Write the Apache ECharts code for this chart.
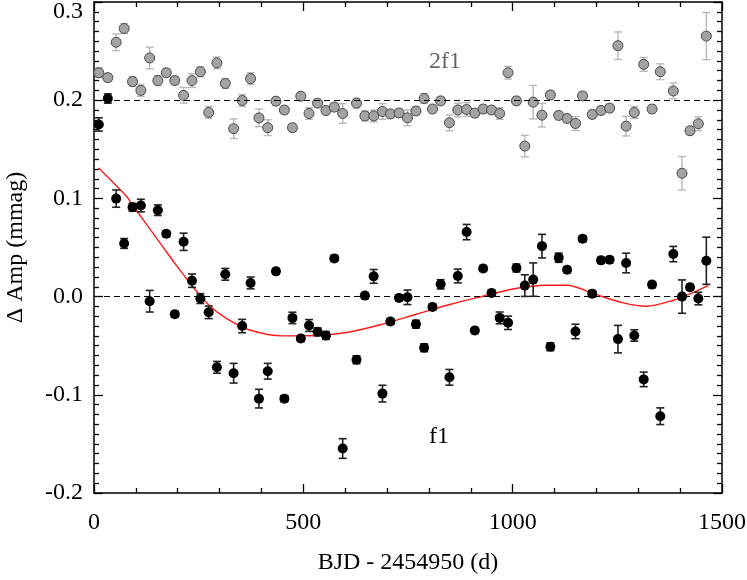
<!DOCTYPE html>
<html>
<head>
<meta charset="utf-8">
<script src="https://cdn.jsdelivr.net/npm/echarts@6/dist/echarts.min.js"></script>
<style>
html,body{margin:0;padding:0;background:#fff;}
#chart{width:747px;height:580px;}
</style>
</head>
<body>
<div id="chart"></div>
<script>
// ---- data ----
const days = [11.5,33,53,72,92,112,133,152.5,172.6,193,214,234,254,274,293.6,313.6,333.5,354,374,394,415,434.6,454.7,474,494,513.6,534,554,574,594,627,647,668,689,708,728.6,748.7,769,788.5,808.5,828,849,869,890,909.6,929.5,949.5,969,989,1009,1029,1049,1070,1090,1110,1130,1150,1167,1190,1211,1231.6,1251.5,1271,1290.5,1313,1333,1352.6,1383.7,1404.5,1423.6,1443.5,1462.6];

const f1Amp = [0.1753,0.2017,0.0998,0.0541,0.091,0.0927,-0.0047,0.088,0.064,-0.018,0.0558,0.0162,-0.002,-0.016,-0.072,0.0227,-0.078,-0.030,0.0139,-0.1039,-0.076,0.0257,-0.1039,-0.0217,-0.0426,-0.0294,-0.0359,-0.0396,0.0389,-0.1547,-0.0643,0.001,0.0206,-0.0988,-0.0254,-0.0013,-0.0007,-0.0281,-0.0521,-0.0105,0.0125,-0.0822,0.021,0.0657,-0.0345,0.0287,0.0037,-0.0217,-0.0267,0.0291,0.0112,0.0173,0.0514,-0.0511,0.0396,0.0274,-0.0355,0.0589,0.003,0.0369,0.0376,-0.0433,0.0342,-0.0396,-0.0843,0.0122,-0.1218,0.0433,0.0,0.0095,-0.002,0.0365];
const f1Err = [0.0068,0.0047,0.0088,0.005,0.004,0.0064,0.011,0.0054,0.003,0.003,0.0088,0.0068,0.005,0.0064,0.006,0.006,0.01,0.0068,0.006,0.0095,0.008,0.003,0.003,0.0058,0.003,0.006,0.004,0.004,0.003,0.01,0.004,0.003,0.007,0.0085,0.003,0.003,0.0074,0.004,0.004,0.003,0.0047,0.008,0.007,0.0078,0.003,0.003,0.003,0.006,0.0068,0.004,0.011,0.017,0.012,0.004,0.0047,0.003,0.0074,0.003,0.003,0.003,0.003,0.014,0.01,0.0058,0.0074,0.003,0.0085,0.0078,0.017,0.003,0.0064,0.024];

const f2Amp = [0.228,0.223,0.259,0.273,0.219,0.210,0.243,0.220,0.228,0.220,0.205,0.220,0.229,0.1875,0.238,0.217,0.171,0.1997,0.222,0.182,0.172,0.199,0.190,0.172,0.204,0.1865,0.197,0.1895,0.193,0.1865,0.197,0.184,0.184,0.1885,0.186,0.187,0.182,0.189,0.2017,0.191,0.1993,0.177,0.190,0.1905,0.1868,0.191,0.190,0.1865,0.228,0.1993,0.1533,0.198,0.1848,0.2054,0.1845,0.1814,0.1763,0.2044,0.1855,0.1895,0.1919,0.2555,0.1736,0.1875,0.2365,0.191,0.229,0.2094,0.1256,0.1689,0.176,0.2653];
const f2Err = [0.005,0.004,0.0085,0.005,0.005,0.006,0.011,0.005,0.004,0.004,0.008,0.007,0.005,0.006,0.006,0.005,0.01,0.006,0.006,0.009,0.008,0.004,0.004,0.004,0.004,0.006,0.004,0.004,0.004,0.01,0.005,0.005,0.006,0.008,0.004,0.004,0.008,0.004,0.005,0.004,0.004,0.008,0.007,0.007,0.004,0.004,0.004,0.006,0.0065,0.004,0.011,0.017,0.012,0.004,0.004,0.004,0.007,0.004,0.004,0.004,0.004,0.014,0.01,0.006,0.007,0.004,0.008,0.008,0.017,0.004,0.007,0.024];

const fitDays = [11,78,94,158,198,238,278,318,372,451,531,611,690,770,850,925,1001,1081,1129,1200,1264,1320,1384,1432,1467];
const fitAmp  = [0.131,0.102,0.092,0.0545,0.031,0.009,-0.010,-0.0226,-0.034,-0.040,-0.0396,-0.036,-0.028,-0.018,-0.008,0.0,0.0078,0.0115,0.0115,0.002,-0.0064,-0.0098,-0.0037,0.0044,0.0112];

const refLines = [0.0, 0.2];
const xTicks = [0, 500, 1000, 1500];
const yTicks = [-0.2, -0.1, 0.0, 0.1, 0.2, 0.3];

// ---- build ----
const FONT = '"Liberation Serif", "DejaVu Serif", serif';
const f1Pts = days.map((d,i)=>[d,f1Amp[i]]);
const f2Pts = days.map((d,i)=>[d,f2Amp[i]]);
const f1Bars = days.map((d,i)=>[d,f1Amp[i]-f1Err[i],f1Amp[i]+f1Err[i]]);
const f2Bars = days.map((d,i)=>[d,f2Amp[i]-f2Err[i],f2Amp[i]+f2Err[i]]);
const fitPts = fitDays.map((d,i)=>[d,fitAmp[i]]);

function errRender(color, width){
  return function(params, api){
    const x = api.value(0);
    const lo = api.coord([x, api.value(1)]);
    const hi = api.coord([x, api.value(2)]);
    const cap = 4;
    return {type:'group', children:[
      {type:'line', shape:{x1:lo[0],y1:lo[1],x2:hi[0],y2:hi[1]}, style:{stroke:color,lineWidth:width}},
      {type:'line', shape:{x1:lo[0]-cap,y1:lo[1],x2:lo[0]+cap,y2:lo[1]}, style:{stroke:color,lineWidth:width}},
      {type:'line', shape:{x1:hi[0]-cap,y1:hi[1],x2:hi[0]+cap,y2:hi[1]}, style:{stroke:color,lineWidth:width}}
    ]};
  };
}

const axisLine = {show:true, onZero:false, lineStyle:{color:'#000', width:1.5}};
const tick = {show:true, inside:true, length:9, lineStyle:{color:'#000',width:1.3}};
const chart = echarts.init(document.getElementById('chart'), null, {renderer:'canvas'});
chart.setOption({
  animation:false,
  backgroundColor:'#fff',
  grid:{left:94, right:25, top:2, bottom:87, containLabel:false, outerBoundsMode:'none'},
  xAxis:[
    {type:'value', min:xTicks[0], max:xTicks[xTicks.length-1], interval:500, position:'bottom',
     axisLine:axisLine, splitLine:{show:false}, axisTick:tick,
     minorTick:{show:true, splitNumber:5, length:5, lineStyle:{color:'#000',width:1.3}},
     axisLabel:{color:'#000', fontFamily:FONT, fontSize:24, margin:18, formatter:function(v){return String(v);}},
     name:'BJD - 2454950 (d)', nameLocation:'middle', nameGap:58,
     nameTextStyle:{color:'#000', fontFamily:FONT, fontSize:24}},
    {type:'value', min:xTicks[0], max:xTicks[xTicks.length-1], interval:500, position:'top',
     axisLine:axisLine, splitLine:{show:false}, axisTick:tick,
     minorTick:{show:true, splitNumber:5, length:5, lineStyle:{color:'#000',width:1.3}},
     axisLabel:{show:false}}
  ],
  yAxis:[
    {type:'value', min:yTicks[0], max:yTicks[yTicks.length-1], interval:0.1, position:'left',
     axisLine:axisLine, splitLine:{show:false}, axisTick:tick,
     minorTick:{show:true, splitNumber:10, length:5, lineStyle:{color:'#000',width:1.3}},
     axisLabel:{color:'#000', fontFamily:FONT, fontSize:24, margin:11,
       formatter:function(v){
         const s = (Math.abs(v)<1e-9?0:v).toFixed(1);
         return Math.abs(v-0.3)<1e-9 ? '{t|'+s+'}' : s;
       },
       rich:{t:{fontFamily:FONT, fontSize:24, color:'#000', padding:[20,0,0,0]}}},
     name:'\u0394 Amp (mmag)', nameLocation:'middle', nameGap:66, nameRotate:90,
     nameTextStyle:{color:'#000', fontFamily:FONT, fontSize:24}},
    {type:'value', min:yTicks[0], max:yTicks[yTicks.length-1], interval:0.1, position:'right',
     axisLine:axisLine, splitLine:{show:false}, axisTick:tick,
     minorTick:{show:true, splitNumber:10, length:5, lineStyle:{color:'#000',width:1.3}},
     axisLabel:{show:false}}
  ],
  graphic:[
    {type:'text', left:429, top:50, style:{text:'2f1', font:'24px '+FONT, fill:'#666'}},
    {type:'text', left:429, top:425, style:{text:'f1', font:'24px '+FONT, fill:'#000'}}
  ],
  series:[
    {type:'line', data:[], xAxisIndex:0, yAxisIndex:0, silent:true,
     markLine:{silent:true, symbol:'none', label:{show:false},
       lineStyle:{color:'#000', width:1, type:[6,4]},
       data: refLines.map(v=>({yAxis:v}))}},
    {type:'custom', name:'2f1 err', renderItem:errRender('#b8b8b8',1.4), data:f2Bars, encode:{x:0,y:[1,2]}, z:2},
    {type:'scatter', name:'2f1', data:f2Pts, symbol:'circle', symbolSize:10,
     itemStyle:{color:'#a3a3a3', borderColor:'#4a4a4a', borderWidth:1, opacity:1}, z:3},
    {type:'line', name:'fit', data:fitPts, smooth:0.3, showSymbol:false, symbol:'none',
     lineStyle:{color:'#ff1a1a', width:1.4}, z:4},
    {type:'custom', name:'f1 err', renderItem:errRender('#222',1.6), data:f1Bars, encode:{x:0,y:[1,2]}, z:5},
    {type:'scatter', name:'f1', data:f1Pts, symbol:'circle', symbolSize:10,
     itemStyle:{color:'#000', opacity:1}, z:6}
  ]
});
</script>
</body>
</html>
